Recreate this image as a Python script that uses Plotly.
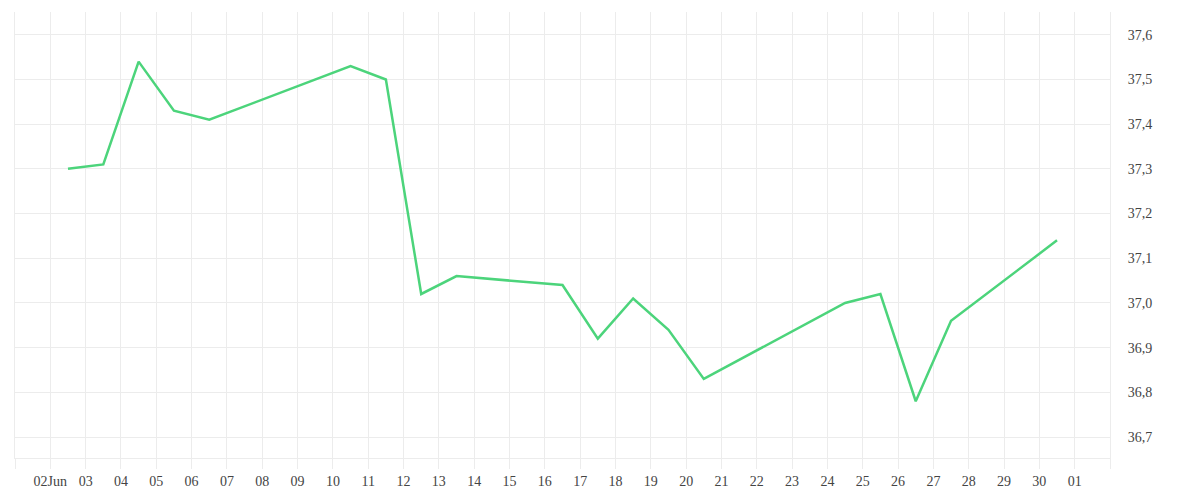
import plotly.graph_objects as go
import pandas as pd

dates = ["2023-06-02 12:00", "2023-06-03 12:00", "2023-06-04 12:00", "2023-06-05 12:00",
         "2023-06-06 12:00", "2023-06-10 12:00", "2023-06-11 12:00", "2023-06-12 12:00",
         "2023-06-13 12:00", "2023-06-16 12:00", "2023-06-17 12:00", "2023-06-18 12:00",
         "2023-06-19 12:00", "2023-06-20 12:00", "2023-06-24 12:00", "2023-06-25 12:00",
         "2023-06-26 12:00", "2023-06-27 12:00", "2023-06-30 12:00"]
values = [37.30, 37.31, 37.54, 37.43, 37.41, 37.53, 37.50, 37.02, 37.06, 37.04,
          36.92, 37.01, 36.94, 36.83, 37.00, 37.02, 36.78, 36.96, 37.14]

tick_dates = pd.date_range("2023-06-01", "2023-07-02", freq="D")
tick_labels = [""] + ["02Jun"] + [d.strftime("%d") for d in tick_dates[2:-1]] + [""]

y_ticks = [36.7, 36.8, 36.9, 37.0, 37.1, 37.2, 37.3, 37.4, 37.5, 37.6]

fig = go.Figure()
fig.add_trace(go.Scatter(
    x=pd.to_datetime(dates), y=values, mode="lines",
    line=dict(color="#4cd47b", width=2.5), hoverinfo="x+y", showlegend=False,
))

grid = "#ececec"
fig.update_layout(
    width=1200, height=500,
    margin=dict(l=7, r=98, t=4, b=50, autoexpand=False),
    paper_bgcolor="white", plot_bgcolor="white",
    separators=",.",
    font=dict(family="Liberation Serif, serif", size=14, color="#444"),
    xaxis=dict(
        type="date", range=[tick_dates[0], tick_dates[-1]],
        tickvals=list(tick_dates), ticktext=tick_labels,
        showgrid=True, gridcolor=grid, gridwidth=1,
        showline=True, linecolor=grid, linewidth=1,
        ticks="outside", ticklen=10, tickcolor=grid, tickwidth=1,
        zeroline=False, tickangle=0, automargin=False,
    ),
    yaxis=dict(
        side="right", range=[36.653, 37.651],
        tickvals=y_ticks, tickformat=".1f",
        showgrid=True, gridcolor=grid, gridwidth=1,
        showline=True, mirror=True, linecolor=grid, linewidth=1,
        ticks="", ticklabelstandoff=14, zeroline=False, automargin=False,
    ),
)

fig.write_html("out.html")
